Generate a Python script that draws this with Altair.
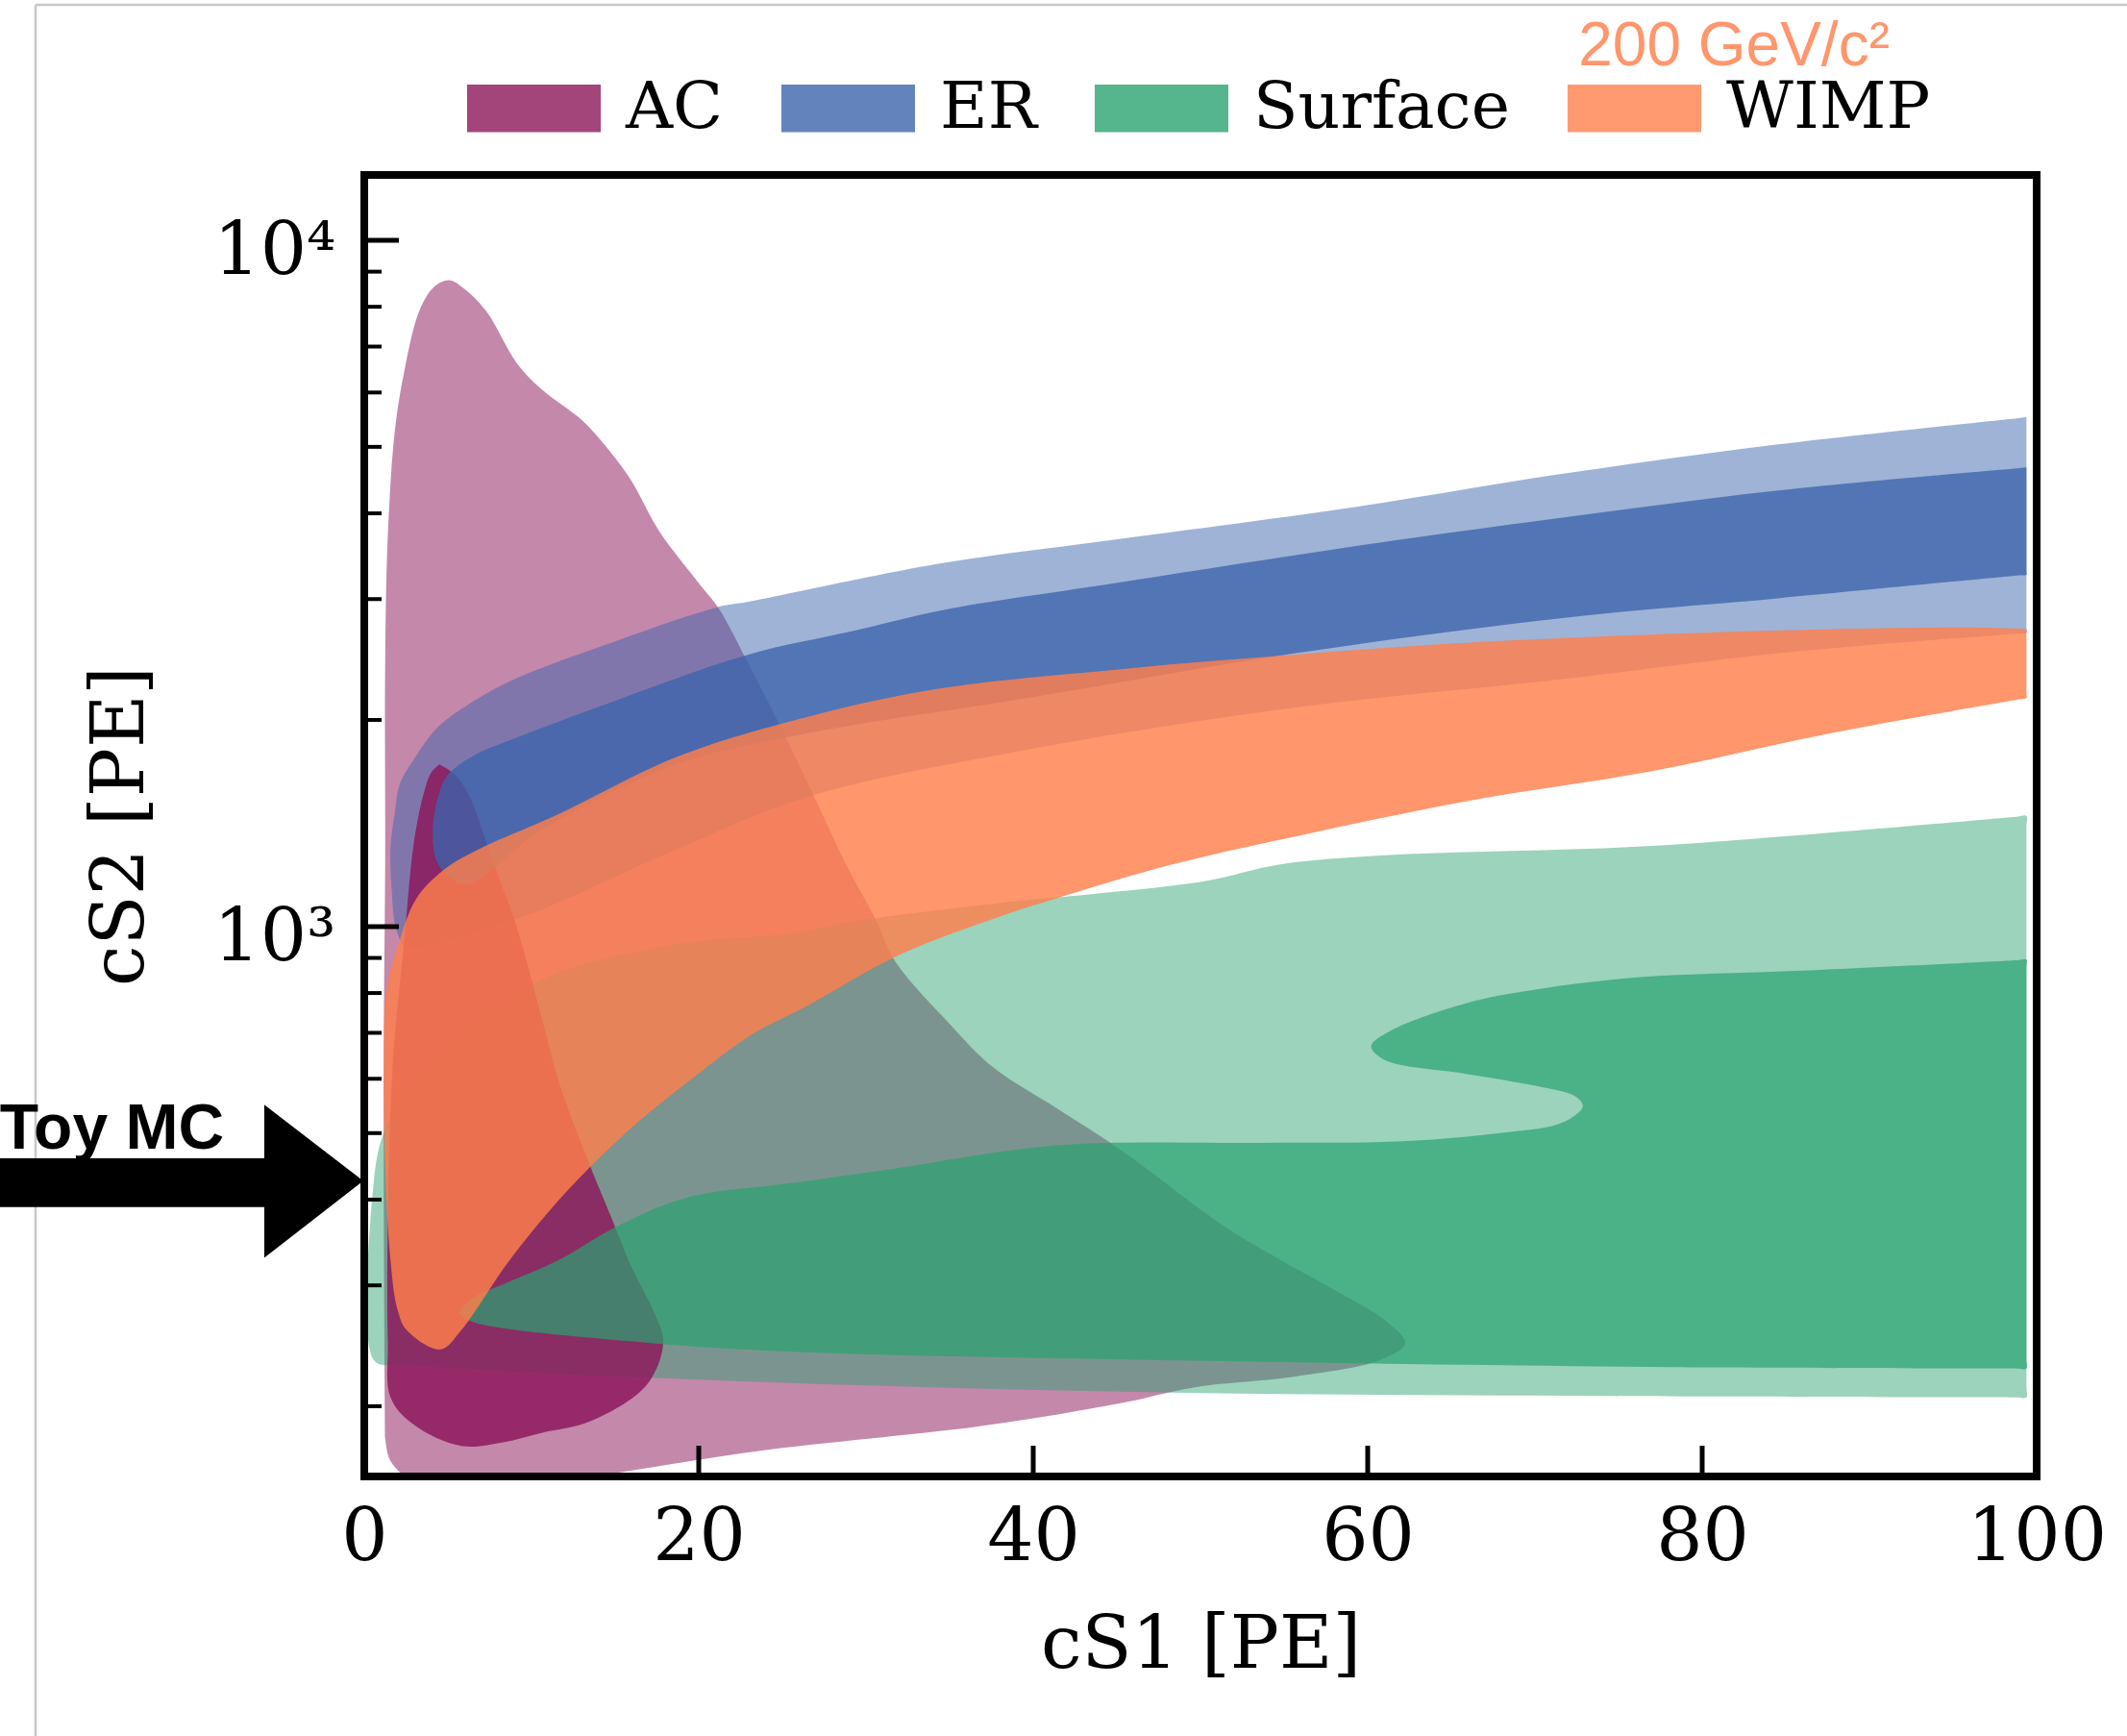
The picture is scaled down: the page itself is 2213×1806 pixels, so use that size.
import altair as alt
import pandas as pd

W, H = 1740, 1354

# ---- contour outlines: (cS1 [PE], cS2 [PE]) ----
ac_outer_x = [1.25, 1.17, 1.17, 1.25, 1.25, 1.41, 1.82, 2.38, 3.28, 4.17, 5.06, 5.95, 7.25, 9.12, 10.57,
              13.01, 14.14, 15.93, 17.63, 19.98, 21.2, 22.98, 24.69, 27.37, 28.82, 30.61, 31.74, 34.99,
              37.58, 41.48, 45.21, 51.62, 54.86, 58.51, 61.02, 62.24, 60.62, 55.67, 49.59, 45.21, 37.5,
              23.47, 13.66, 6.6, 3.36, 2.14, 1.49]
ac_outer_y = [180, 373, 706, 1247, 2412, 3717, 5253, 6417, 7874, 8548, 8744, 8509, 7910, 6624, 6075,
              5471, 5111, 4479, 3768, 3170, 2907, 2412, 2002, 1462, 1230, 1021, 890, 722,
              624, 542, 473, 363, 326, 291, 267, 247, 233, 221, 213, 202, 188,
              172, 158, 150, 152, 160, 168]

ac_inner_x = [4.49, 5.38, 6.2, 6.85, 7.74, 9.12, 10.57, 11.79, 13.57, 14.71, 15.93, 17.39, 17.88, 16.9,
              13.49, 10.65, 8.22, 5.79, 2.95, 1.57, 1.41, 1.41, 1.73, 2.38, 2.95, 3.52, 4.0]
ac_inner_y = [1723, 1669, 1565, 1429, 1236, 998, 742, 578, 444, 380, 321, 272, 248, 215,
              190, 183, 177, 175, 188, 206, 248, 373, 645, 947, 1317, 1551, 1676]

er_outer_x = [99.39, 98.8, 84.55, 71.49, 59.32, 45.05, 34.42, 22.98, 21.12, 14.14, 8.31, 4.82, 3.93, 3.03,
              2.14, 1.82, 1.57, 1.65, 1.90, 2.55, 4.17, 9.76, 18.44, 26.47, 39.69, 55.67, 71.65, 84.55,
              98.8, 99.39, 99.39, 99.39]
er_outer_y = [5522, 5502, 5041, 4561, 4090, 3666, 3379, 2973, 2920, 2559, 2253, 1993, 1895, 1762,
              1616, 1462, 1305, 1118, 993, 928, 940, 1039, 1288, 1544, 1811, 2085, 2294, 2502,
              2672, 2679, 2730, 5430]

er_inner_x = [99.39, 98.8, 84.55, 71.65, 61.02, 45.05, 34.66, 29.07, 22.98, 14.14, 8.31, 6.76, 4.98, 4.33,
              4.09, 4.33, 5.14, 6.20, 10.65, 18.44, 26.47, 39.69, 55.67, 71.65, 84.55, 98.8, 99.39,
              99.39, 99.39]
er_inner_y = [4667, 4653, 4319, 3943, 3634, 3170, 2894, 2690, 2491, 2095, 1852, 1786, 1661, 1516,
              1366, 1247, 1176, 1154, 1385, 1715, 1912, 2153, 2502, 2815, 3008, 3247, 3257,
              3300, 4610]

sf_outer_x = [0.60, 0.92, 1.98, 4.98, 10.41, 18.44, 25.90, 29.07, 39.69, 42.37, 50.32, 54.61, 61.02, 77.0,
              98.8, 99.39, 99.39, 99.39, 99.39, 98.8, 74.08, 45.21, 17.06, 2.38, 0.60]
sf_outer_y = [432, 480, 552, 660, 832, 940, 980, 1016, 1093, 1108, 1165, 1230, 1270, 1311,
              1445, 1449, 1400, 214, 206, 206, 207, 210, 220, 230, 233]

sf_inner_x = [5.63, 6.35, 8.71, 11.55, 15.04, 19.17, 25.90, 31.74, 41.41, 53.64, 61.83, 67.91, 71.65, 72.86,
              72.45, 70.03, 65.89, 61.02, 60.21, 61.43, 65.89, 70.03, 76.11, 86.33, 98.8, 99.39, 99.39,
              99.39, 99.39, 98.8, 78.13, 45.45, 25.90, 17.31, 7.74, 6.20]
sf_inner_y = [273, 286, 304, 326, 365, 402, 424, 444, 480, 484, 486, 500, 518, 547,
              565, 586, 610, 639, 669, 706, 773, 809, 843, 863, 893, 895, 870,
              235, 227, 227, 228, 234, 240, 247, 261, 267]

wimp_x = [99.39, 98.8, 95.58, 82.27, 66.38, 55.67, 45.05, 34.42, 26.47, 18.77, 11.55, 6.76, 4.82, 3.11,
          1.98, 1.33, 1.17, 1.25, 1.57, 1.98, 2.55, 4.57, 5.79, 8.47, 10.82, 13.49, 16.33, 19.17, 23.06,
          26.47, 31.74, 37.10, 42.37, 48.21, 55.67, 66.38, 77.0, 87.63, 98.8, 99.39, 99.39, 99.39]
wimp_y = [2715, 2717, 2727, 2690, 2594, 2491, 2369, 2222, 2020, 1770, 1455, 1293, 1213, 1098,
          932, 809, 645, 448, 326, 277, 258, 242, 258, 321, 379, 446, 518, 589, 693,
          766, 903, 1016, 1118, 1230, 1353, 1530, 1684, 1912, 2140, 2153, 2190, 2680]

# annotation arrow ("Toy MC") in data units
arrow_x = [-21.8, -5.98, -5.98, -0.06, -5.98, -5.98, -21.8]
arrow_y = [459.5, 459.5, 550, 426, 329, 390, 390]

classes = ["AC", "ER", "Surface", "WIMP"]
class_colors = ["#8c165a", "#3c64ac", "#2aa270", "#ff7f4c"]

x_ticks = [0, 20, 40, 60, 80, 100]
x_inner_ticks = [20, 40, 60, 80]
y_major = [1000, 10000]
y_minor = [200, 300, 400, 500, 600, 700, 800, 900, 2000, 3000, 4000, 5000, 6000, 7000, 8000, 9000]

SERIF = "DejaVu Serif"

xs = alt.Scale(domain=[0, 100], nice=False, zero=False)
ys = alt.Scale(type="log", domain=[158, 12450], nice=False)
fill_scale = alt.Scale(domain=classes, range=class_colors)

xaxis = alt.Axis(values=x_ticks, ticks=False, domain=False, grid=False, labelFlush=False, labelOverlap=False,
                 labelFont=SERIF, labelFontSize=76, labelColor="black", labelPadding=26,
                 title="cS1 [PE]", titleFont=SERIF, titleFontSize=76, titleFontWeight="normal",
                 titleColor="black", titlePadding=37)
yaxis = alt.Axis(values=y_major, ticks=False, domain=False, grid=False, labelFlush=False, labelOverlap=False,
                 labelExpr="datum.value == 10000 ? '10⁴' : (datum.value == 1000 ? '10³' : '')",
                 labelFont=SERIF, labelFontSize=76, labelColor="black", labelPadding=30,
                 labelBaseline="middle", labelOffset=12,
                 title="cS2 [PE]", titleFont=SERIF, titleFontSize=76, titleFontWeight="normal",
                 titleColor="black", titlePadding=57)
legend = alt.Legend(orient="none", legendX=107, legendY=-139, direction="horizontal", columns=4,
                    title=None, symbolType="M-1,-0.355H1V0.355H-1Z", symbolSize=19321,
                    symbolOpacity=0.8, symbolStrokeWidth=0, labelFont=SERIF, labelFontSize=68,
                    labelColor="black", labelOffset=26, columnPadding=60, padding=0, labelLimit=1000)


def poly_df(xv, yv, cls):
    xv2 = list(xv) + [xv[0]]
    yv2 = list(yv) + [yv[0]]
    return pd.DataFrame({"cs1": xv2, "cs2": yv2, "i": list(range(len(xv2))), "cls": cls})


def poly_layer(xv, yv, cls, op):
    return alt.Chart(poly_df(xv, yv, cls)).mark_line(
        clip=True, interpolate="catmull-rom", strokeWidth=0, stroke="transparent", fillOpacity=op
    ).encode(
        x=alt.X("cs1:Q", scale=xs, axis=xaxis),
        y=alt.Y("cs2:Q", scale=ys, axis=yaxis),
        order=alt.Order("i:Q"),
        fill=alt.Fill("cls:N", scale=fill_scale, legend=legend),
    )


dummy = pd.DataFrame({"k": [0]})

border = alt.Chart(dummy).mark_rule(color="#c8c8c8", strokeWidth=2.5).encode(
    x=alt.value(-342), y=alt.value(-177), y2=alt.value(1624))
border_top = alt.Chart(dummy).mark_rule(color="#c8c8c8", strokeWidth=2.5).encode(
    x=alt.value(-342), x2=alt.value(1834), y=alt.value(-177))

# outer (2 sigma) levels of every class first, then the inner (1 sigma) levels, WIMP last
layers = [
    border, border_top,
    poly_layer(ac_outer_x, ac_outer_y, "AC", 0.51),
    poly_layer(er_outer_x, er_outer_y, "ER", 0.49),
    poly_layer(sf_outer_x, sf_outer_y, "Surface", 0.47),
    poly_layer(ac_inner_x, ac_inner_y, "AC", 0.82),
    poly_layer(er_inner_x, er_inner_y, "ER", 0.78),
    poly_layer(sf_inner_x, sf_inner_y, "Surface", 0.70),
    poly_layer(wimp_x, wimp_y, "WIMP", 0.82),
]

arrow_df = pd.DataFrame({"cs1": arrow_x + [arrow_x[0]], "cs2": arrow_y + [arrow_y[0]],
                         "i": list(range(len(arrow_x) + 1))})
arrow = alt.Chart(arrow_df).mark_line(clip=False, interpolate="linear", strokeWidth=0,
                                      stroke="transparent").encode(
    x=alt.X("cs1:Q", scale=xs, axis=xaxis), y=alt.Y("cs2:Q", scale=ys, axis=yaxis),
    order=alt.Order("i:Q"), fill=alt.value("black"))

toy = alt.Chart(pd.DataFrame({"cs1": [-21.8], "cs2": [474], "t": ["Toy MC"]})).mark_text(
    align="left", baseline="alphabetic", font="Liberation Sans", fontSize=66, fontWeight="bold",
    color="black", clip=False).encode(
    x=alt.X("cs1:Q", scale=xs, axis=xaxis), y=alt.Y("cs2:Q", scale=ys, axis=yaxis), text="t:N")

gev = alt.Chart(pd.DataFrame({"cs1": [72.6], "cs2": [17990], "t": ["200 GeV/c²"]})).mark_text(
    align="left", baseline="alphabetic", font="Liberation Sans", fontSize=64,
    color="#ff966c", clip=False).encode(
    x=alt.X("cs1:Q", scale=xs, axis=xaxis), y=alt.Y("cs2:Q", scale=ys, axis=yaxis), text="t:N")

xt = alt.Chart(pd.DataFrame({"cs1": x_inner_ticks})).mark_rule(color="black", strokeWidth=5).encode(
    x=alt.X("cs1:Q", scale=xs, axis=xaxis), y=alt.value(H), y2=alt.value(H - 32))
ytM = alt.Chart(pd.DataFrame({"cs2": y_major})).mark_rule(color="black", strokeWidth=5).encode(
    y=alt.Y("cs2:Q", scale=ys, axis=yaxis), x=alt.value(0), x2=alt.value(36))
ytm = alt.Chart(pd.DataFrame({"cs2": y_minor})).mark_rule(color="black", strokeWidth=4).encode(
    y=alt.Y("cs2:Q", scale=ys, axis=yaxis), x=alt.value(0), x2=alt.value(18))

frame = alt.Chart(dummy).mark_rect(fillOpacity=0, stroke="black", strokeWidth=8).encode(
    x=alt.value(0), x2=alt.value(W), y=alt.value(0), y2=alt.value(H))

layers += [arrow, toy, gev, xt, ytM, ytm, frame]

chart = alt.layer(*layers).properties(
    width=W, height=H,
    autosize=alt.AutoSizeParams(type="none"),
    padding={"left": 379, "top": 182, "right": 94, "bottom": 270},
    background="white",
).configure_view(strokeWidth=0)

chart.save("out.html", embed_options={"renderer": "svg", "actions": False})
